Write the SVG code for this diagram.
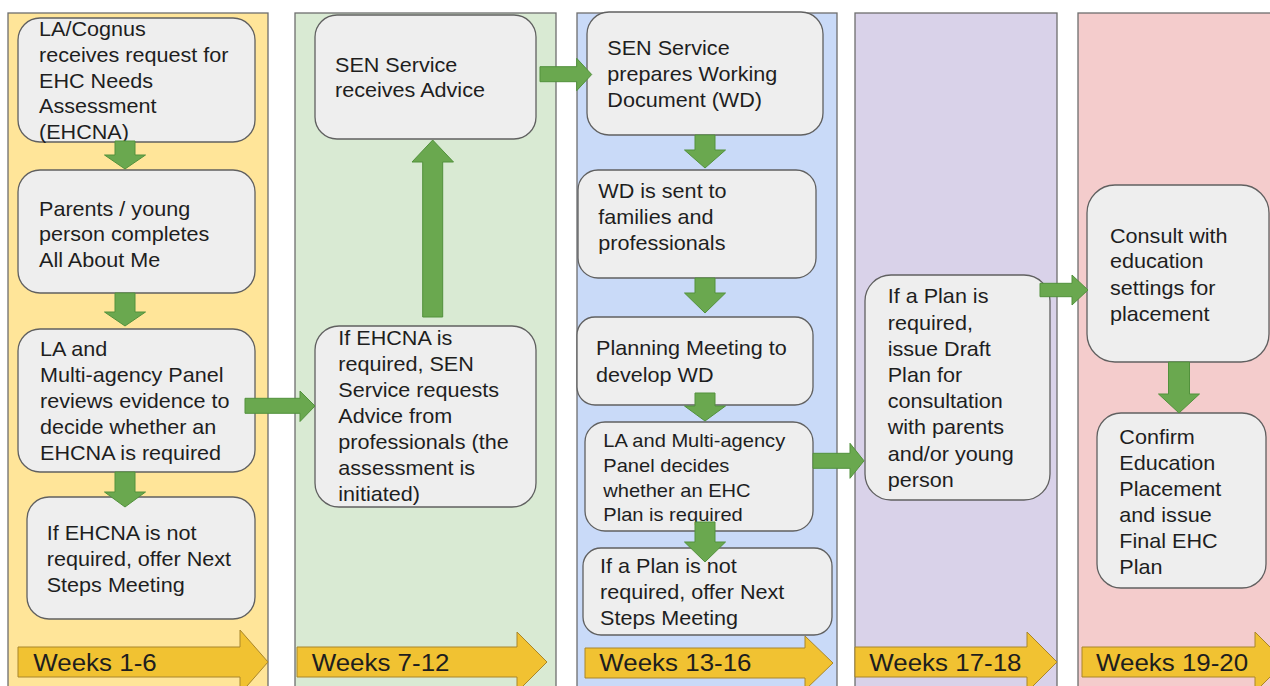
<svg xmlns="http://www.w3.org/2000/svg" width="1270" height="686" viewBox="0 0 1270 686">
  <style>
    .col { stroke: #6e6e6e; stroke-width: 1.3; }
    .box { fill: #eeeeee; stroke: #606060; stroke-width: 1.3; }
    .t { font-family: "Liberation Sans", Arial, sans-serif; font-size: 20px; fill: #1e1e1e; }
    .t2 { font-size: 18.6px; }
    .wk { font-family: "Liberation Sans", Arial, sans-serif; font-size: 24px; fill: #1e1e1e; }
    .ga { fill: #6aa84f; stroke: #52913c; stroke-width: 1; }
    .ya { fill: #f1c232; stroke: #a9862a; stroke-width: 1; }
  </style>

  <rect width="1270" height="686" fill="#ffffff"/>

  <!-- Week columns -->
  <g id="columns">
    <rect class="col" x="8" y="13" width="260" height="700" fill="#ffe599"/>
    <rect class="col" x="295" y="13" width="261" height="700" fill="#d9ead3"/>
    <rect class="col" x="577" y="13" width="260" height="700" fill="#c9daf8"/>
    <rect class="col" x="855" y="13" width="202" height="700" fill="#d9d2e9"/>
    <rect class="col" x="1078" y="13" width="200" height="700" fill="#f4cccc"/>
  </g>

  <!-- Timeline arrows -->
  <g id="timeline">
    <g id="wk1">
      <polygon class="ya" points="18,647 240,647 240,630 268,662 240,694 240,677 18,677"/>
      <text class="wk" transform="translate(33.3 671) scale(1.08 1)">Weeks 1-6</text>
    </g>
    <g id="wk2">
      <polygon class="ya" points="297,647 517,647 517,632 547,662 517,692 517,677 297,677"/>
      <text class="wk" transform="translate(311.7 671) scale(1.08 1)">Weeks 7-12</text>
    </g>
    <g id="wk3">
      <polygon class="ya" points="585,648 805,648 805,636 833,663 805,690 805,678 585,678"/>
      <text class="wk" transform="translate(599.3 671) scale(1.08 1)">Weeks 13-16</text>
    </g>
    <g id="wk4">
      <polygon class="ya" points="855,647 1027,647 1027,632 1057,662 1027,692 1027,677 855,677"/>
      <text class="wk" transform="translate(869.3 671) scale(1.08 1)">Weeks 17-18</text>
    </g>
    <g id="wk5">
      <polygon class="ya" points="1082,647 1255,647 1255,632 1285,662 1255,692 1255,677 1082,677"/>
      <text class="wk" transform="translate(1096 671) scale(1.08 1)">Weeks 19-20</text>
    </g>
  </g>

  <!-- Steps -->
  <g id="n1">
    <rect class="box" x="18" y="18" width="237" height="124" rx="22"/>
    <text class="t" transform="translate(39 36) scale(1.08 1)">
      <tspan x="0" y="0">LA/Cognus</tspan>
      <tspan x="0" y="26">receives request for</tspan>
      <tspan x="0" y="52">EHC Needs</tspan>
      <tspan x="0" y="77.5">Assessment</tspan>
      <tspan x="0" y="103">(EHCNA)</tspan>
    </text>
  </g>
  <g id="n2">
    <rect class="box" x="18" y="170" width="237" height="123" rx="22"/>
    <text class="t" transform="translate(39 216) scale(1.08 1)">
      <tspan x="0" y="0">Parents / young</tspan>
      <tspan x="0" y="25.5">person completes</tspan>
      <tspan x="0" y="51">All About Me</tspan>
    </text>
  </g>
  <g id="n3">
    <rect class="box" x="18" y="329" width="237" height="143" rx="22"/>
    <text class="t" transform="translate(40 356) scale(1.08 1)">
      <tspan x="0" y="0">LA and</tspan>
      <tspan x="0" y="26.5">Multi-agency Panel</tspan>
      <tspan x="0" y="52.3">reviews evidence to</tspan>
      <tspan x="0" y="78">decide whether an</tspan>
      <tspan x="0" y="104">EHCNA is required</tspan>
    </text>
  </g>
  <g id="n4">
    <rect class="box" x="27" y="497" width="228" height="122" rx="22"/>
    <text class="t" transform="translate(46.7 540) scale(1.08 1)">
      <tspan x="0" y="0">If EHCNA is not</tspan>
      <tspan x="0" y="25.7">required, offer Next</tspan>
      <tspan x="0" y="51.7">Steps Meeting</tspan>
    </text>
  </g>

  <g id="n5">
    <rect class="box" x="315" y="15" width="221" height="124" rx="22"/>
    <text class="t" transform="translate(335 71.7) scale(1.08 1)">
      <tspan x="0" y="0">SEN Service</tspan>
      <tspan x="0" y="25.6">receives Advice</tspan>
    </text>
  </g>
  <g id="n6">
    <rect class="box" x="315" y="326" width="221" height="181" rx="24"/>
    <text class="t" transform="translate(338.3 345) scale(1.08 1)">
      <tspan x="0" y="0">If EHCNA is</tspan>
      <tspan x="0" y="26">required, SEN</tspan>
      <tspan x="0" y="52">Service requests</tspan>
      <tspan x="0" y="78">Advice from</tspan>
      <tspan x="0" y="104">professionals (the</tspan>
      <tspan x="0" y="130">assessment is</tspan>
      <tspan x="0" y="156">initiated)</tspan>
    </text>
  </g>

  <g id="n7">
    <rect class="box" x="587" y="12" width="236" height="123" rx="22"/>
    <text class="t" transform="translate(607.3 55) scale(1.08 1)">
      <tspan x="0" y="0">SEN Service</tspan>
      <tspan x="0" y="25.8">prepares Working</tspan>
      <tspan x="0" y="51.7">Document (WD)</tspan>
    </text>
  </g>
  <g id="n8">
    <rect class="box" x="578" y="170" width="238" height="108" rx="20"/>
    <text class="t" transform="translate(598.3 198.3) scale(1.08 1)">
      <tspan x="0" y="0">WD is sent to</tspan>
      <tspan x="0" y="25.8">families and</tspan>
      <tspan x="0" y="51.7">professionals</tspan>
    </text>
  </g>
  <g id="n9">
    <rect class="box" x="577" y="317" width="236" height="88" rx="18"/>
    <text class="t" transform="translate(596 355) scale(1.08 1)">
      <tspan x="0" y="0">Planning Meeting to</tspan>
      <tspan x="0" y="26.7">develop WD</tspan>
    </text>
  </g>
  <g id="n10">
    <rect class="box" x="585" y="422" width="228" height="109" rx="20"/>
    <text class="t t2" transform="translate(603.3 446.7) scale(1.08 1)">
      <tspan x="0" y="0">LA and Multi-agency</tspan>
      <tspan x="0" y="25">Panel decides</tspan>
      <tspan x="0" y="50">whether an EHC</tspan>
      <tspan x="0" y="74.3">Plan is required</tspan>
    </text>
  </g>
  <g id="n11">
    <rect class="box" x="583" y="548" width="249" height="87" rx="18"/>
    <text class="t" transform="translate(600 573.3) scale(1.08 1)">
      <tspan x="0" y="0">If a Plan is not</tspan>
      <tspan x="0" y="25.7">required, offer Next</tspan>
      <tspan x="0" y="51.7">Steps Meeting</tspan>
    </text>
  </g>

  <g id="n12">
    <rect class="box" x="865" y="275" width="185" height="225" rx="26"/>
    <text class="t" transform="translate(887.7 303.3) scale(1.08 1)">
      <tspan x="0" y="0">If a Plan is</tspan>
      <tspan x="0" y="26.7">required,</tspan>
      <tspan x="0" y="52.7">issue Draft</tspan>
      <tspan x="0" y="78.4">Plan for</tspan>
      <tspan x="0" y="104.4">consultation</tspan>
      <tspan x="0" y="131">with parents</tspan>
      <tspan x="0" y="157.7">and/or young</tspan>
      <tspan x="0" y="183.4">person</tspan>
    </text>
  </g>

  <g id="n13">
    <rect class="box" x="1087" y="185" width="182" height="177" rx="28"/>
    <text class="t" transform="translate(1110 243.3) scale(1.08 1)">
      <tspan x="0" y="0">Consult with</tspan>
      <tspan x="0" y="25">education</tspan>
      <tspan x="0" y="51.7">settings for</tspan>
      <tspan x="0" y="77.4">placement</tspan>
    </text>
  </g>
  <g id="n14">
    <rect class="box" x="1097" y="413" width="169" height="175" rx="24"/>
    <text class="t" transform="translate(1119.3 444) scale(1.08 1)">
      <tspan x="0" y="0">Confirm</tspan>
      <tspan x="0" y="26">Education</tspan>
      <tspan x="0" y="52">Placement</tspan>
      <tspan x="0" y="77.7">and issue</tspan>
      <tspan x="0" y="104.3">Final EHC</tspan>
      <tspan x="0" y="130">Plan</tspan>
    </text>
  </g>

  <!-- Connectors -->
  <g id="connectors">
    <!-- vertical, downward -->
    <polygon class="ga" points="115,141 135,141 135,155 145.5,155 125,169 104.5,155 115,155"/>
    <polygon class="ga" points="115,293 135,293 135,312 145.5,312 125,326 104.5,312 115,312"/>
    <polygon class="ga" points="115,472 135,472 135,492 145.5,492 125,507 104.5,492 115,492"/>
    <polygon class="ga" points="695,135 715,135 715,150 725.5,150 705,168 684.5,150 695,150"/>
    <polygon class="ga" points="695,278 715,278 715,293 725.5,293 705,313 684.5,293 695,293"/>
    <polygon class="ga" points="695,393 715,393 715,406 725.5,406 705,421 684.5,406 695,406"/>
    <polygon class="ga" points="695,522 715,522 715,542 725.5,542 705,562 684.5,542 695,542"/>
    <polygon class="ga" points="1168.5,362 1189.5,362 1189.5,394 1199.5,394 1179,413 1158.5,394 1168.5,394"/>
    <!-- vertical, upward -->
    <polygon class="ga" points="422.7,317 442.7,317 442.7,162 453.5,162 432.7,140 412,162 422.7,162"/>
    <!-- horizontal -->
    <polygon class="ga" points="245,398.3 300,398.3 300,391 315,406 300,421.5 300,413.3 245,413.3"/>
    <polygon class="ga" points="540,66.7 576.7,66.7 576.7,58.3 591.7,74.5 576.7,90.7 576.7,81.7 540,81.7"/>
    <polygon class="ga" points="813,453.3 850,453.3 850,443.3 864,460.8 850,478.3 850,468.3 813,468.3"/>
    <polygon class="ga" points="1040,283.3 1072,283.3 1072,275 1088,290 1072,305 1072,296.7 1040,296.7"/>
  </g>
</svg>
